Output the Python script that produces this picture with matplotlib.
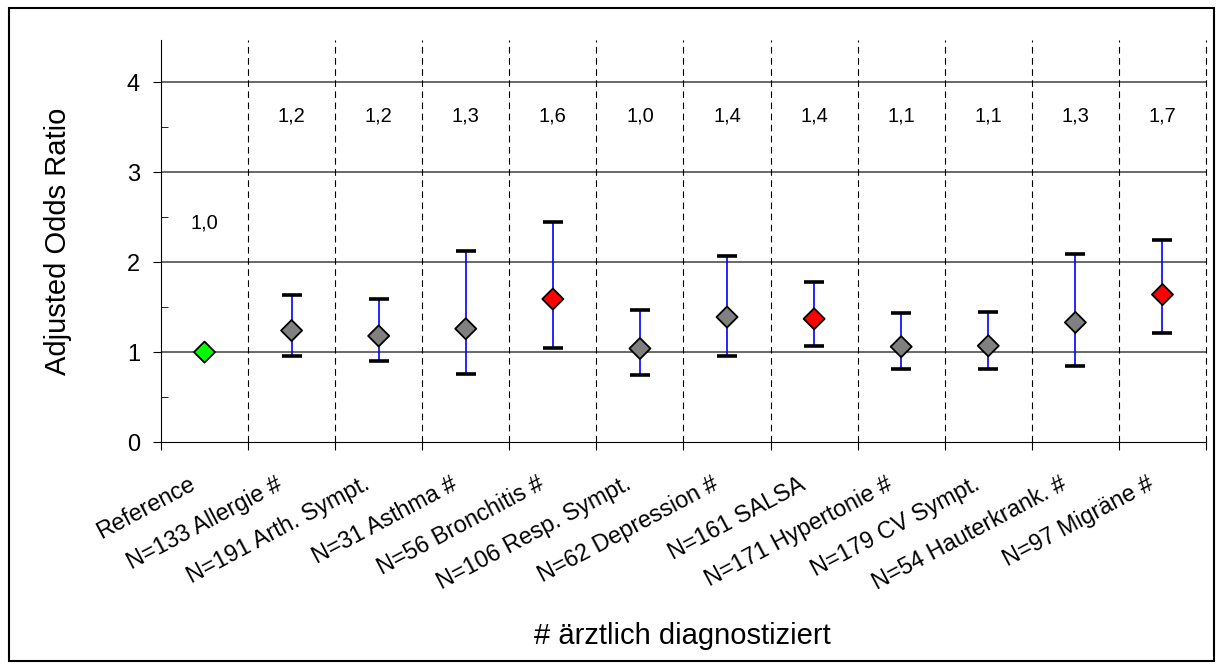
# Adjusted Odds Ratio Diagramm
import matplotlib.pyplot as plt
from matplotlib.patches import Rectangle
from matplotlib.transforms import ScaledTranslation
import numpy as np

plt.rcParams['font.family'] = ['Liberation Sans', 'DejaVu Sans']

# Kategorien und Werte
labels = ['Reference', 'N=133 Allergie #', 'N=191 Arth. Sympt.', 'N=31 Asthma #',
          'N=56 Bronchitis #', 'N=106 Resp. Sympt.', 'N=62 Depression #', 'N=161 SALSA',
          'N=171 Hypertonie #', 'N=179 CV Sympt.', 'N=54 Hauterkrank. #', 'N=97 Migräne #']
odds = [1.0, 1.24, 1.18, 1.26, 1.59, 1.04, 1.39, 1.37, 1.06, 1.07, 1.33, 1.64]
upper = [1.0, 1.63, 1.59, 2.12, 2.45, 1.47, 2.07, 1.78, 1.43, 1.45, 2.09, 2.25]
lower = [1.0, 0.96, 0.90, 0.76, 1.05, 0.74, 0.96, 1.07, 0.81, 0.81, 0.85, 1.21]
value_text = ['1,0', '1,2', '1,2', '1,3', '1,6', '1,0', '1,4', '1,4', '1,1', '1,1', '1,3', '1,7']
colors = ['#00ff00', '#808080', '#808080', '#808080', '#ff0000', '#808080',
          '#808080', '#ff0000', '#808080', '#808080', '#808080', '#ff0000']

X = np.arange(len(labels))

fig = plt.figure(figsize=(12.23, 6.68), dpi=100)
ax = fig.add_axes([0.1316, 0.3383, 0.8545, 0.6017])

# Rahmen um die ganze Grafik
fig.patches.append(Rectangle((0.007, 0.01), 0.986, 0.978, transform=fig.transFigure,
                             fill=False, edgecolor='black', linewidth=1.5))

# horizontale Gitterlinien
for g in [1, 2, 3, 4]:
    ax.axhline(g, color='#404040', linewidth=1.1, zorder=1)

# vertikale gestrichelte Trennlinien
for b in X + 0.5:
    ax.axvline(b, color='black', linewidth=0.8, linestyle=(0, (6, 4)), zorder=1, clip_on=False)

# Fehlerbalken (ohne Referenz)
o = np.array(odds[1:])
yerr = [o - np.array(lower[1:]), np.array(upper[1:]) - o]
_, caps, _ = ax.errorbar(X[1:], o, yerr=yerr, fmt='none', ecolor='blue', elinewidth=1.2,
                         capsize=7.5, capthick=2.6, zorder=2)
for c in caps:
    c.set_color('black')
    c.set_markeredgecolor('black')

# Rauten-Marker
ax.scatter(X, odds, marker='D', s=115, c=colors, edgecolors='black', linewidths=1.3, zorder=3)

# Werte oben
for i, t in enumerate(value_text):
    y = 2.44 if i == 0 else 3.63
    ax.text(X[i], y, t, ha='center', va='center', fontsize=14.5)

ax.set_xlim(-0.5, len(labels) - 0.5)
ax.set_ylim(0, 4.47)
ax.set_yticks([0, 1, 2, 3, 4])
ax.set_yticks(np.arange(0.5, 4.5, 1), minor=True)
ax.tick_params(axis='y', which='major', direction='out', length=6, labelsize=17, pad=9)
ax.tick_params(axis='y', which='minor', direction='in', length=5)
ax.set_xticks(np.append(X[0] - 0.5, X + 0.5))
ax.set_xticklabels([])
ax.set_xticks(X, minor=True)
ax.set_xticklabels(labels, minor=True, rotation=28, ha='right', rotation_mode='anchor', fontsize=16.8)
ax.tick_params(axis='x', which='major', direction='out', length=6)
ax.tick_params(axis='x', which='minor', length=0, pad=22)
shift = ScaledTranslation(-0.16, 0, fig.dpi_scale_trans)
for lab in ax.get_xticklabels(minor=True):
    lab.set_transform(lab.get_transform() + shift)

for s in ['top', 'right']:
    ax.spines[s].set_visible(False)

ax.set_ylabel('Adjusted Odds Ratio', fontsize=21)
ax.set_xlabel('# ärztlich diagnostiziert', fontsize=21)
ax.yaxis.set_label_coords(-0.085, 0.5)
ax.xaxis.set_label_coords(0.499, -0.448)

fig.savefig('out.png', dpi=100)
